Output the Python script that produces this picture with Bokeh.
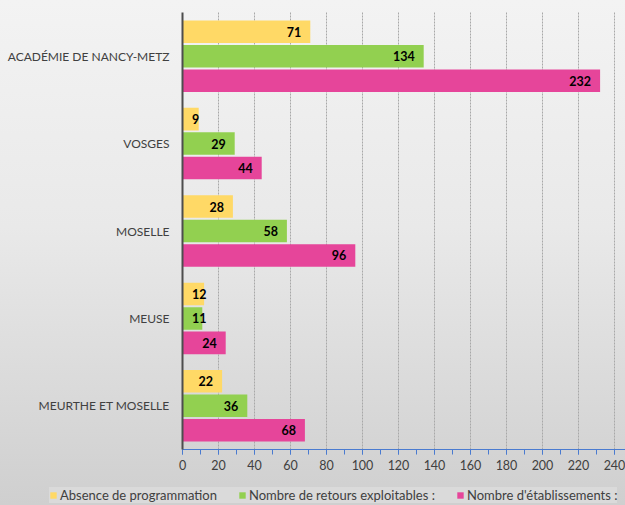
from bokeh.plotting import figure
from bokeh.models import ColumnDataSource, Legend, LegendItem, Range1d, FixedTicker
from bokeh.transform import dodge
from bokeh.core.properties import value
from bokeh.embed import file_html
from bokeh.resources import INLINE

categories = ["MEURTHE ET MOSELLE", "MEUSE", "MOSELLE", "VOSGES", "ACADÉMIE DE NANCY-METZ"]
absence = [22, 12, 28, 9, 71]
retours = [36, 11, 58, 29, 134]
etablissements = [68, 24, 96, 44, 232]
series_names = ["Absence de programmation", "Nombre de retours exploitables :", "Nombre d'établissements :"]
x_ticks = list(range(0, 241, 20))

colors = ["#FFD966", "#92D050", "#E6459A"]
FONT = "Lato"

pos = list(range(len(categories)))


def label_cols(vals):
    # short bars: label pinned just after the axis, otherwise inside the bar end
    xs = [v if v >= 15 else 0 for v in vals]
    al = ["right" if v >= 15 else "left" for v in vals]
    off = [-9 if v >= 15 else 9.5 for v in vals]
    return xs, al, off


data = dict(pos=pos, a=absence, r=retours, e=etablissements)
for k, vals in (("a", absence), ("r", retours), ("e", etablissements)):
    xs, al, off = label_cols(vals)
    data[k + "_lx"] = xs
    data[k + "_al"] = al
    data[k + "_off"] = off
    data[k + "_t"] = [str(v) for v in vals]
src = ColumnDataSource(data)

# whole canvas is the frame; axes are pinned at the category / zero edges
PX_PER_UNIT_X = 1.8
PX_PER_CAT = 87.4
W, H = 625, 505
LEFT, TOP, BOTTOM = 182, 12, 449
x0 = -LEFT / PX_PER_UNIT_X
x1 = (W - LEFT) / PX_PER_UNIT_X
y0 = -0.5 - (H - BOTTOM) / PX_PER_CAT
y1 = len(categories) - 0.5 + TOP / PX_PER_CAT

p = figure(width=W, height=H, x_range=Range1d(x0, x1), y_range=Range1d(y0, y1),
           output_backend="svg", toolbar_location=None,
           min_border=0, min_border_left=0, min_border_right=0, min_border_top=0, min_border_bottom=0)
p.styles = {"background": "linear-gradient(to bottom, #f3f3f3 0%, #e9e9e9 45%, #cfcfcf 100%)"}
p.background_fill_color = None
p.border_fill_color = None
p.outline_line_color = None

offsets = [0.28, 0.0, -0.28]
keys = ["a", "r", "e"]
renderers = []
for k, off, c in zip(keys, offsets, colors):
    r = p.hbar(y=dodge("pos", off), right=k, left=0, height=0.258,
               source=src, fill_color=c, line_color=None)
    renderers.append(r)
    p.text(x=k + "_lx", y=dodge("pos", off), text=k + "_t", source=src,
           text_align=k + "_al", text_baseline="middle", x_offset=k + "_off",
           text_font=value(FONT), text_font_size="12.5px", text_font_style="bold",
           text_color="#000000")

xa = p.xaxis[0]
xa.fixed_location = -0.5
xa.bounds = (0, x1)
xa.ticker = FixedTicker(ticks=x_ticks, minor_ticks=list(range(0, 241, 10)))
xa.axis_line_color = "#4A7BD0"
xa.major_tick_line_color = "#4A7BD0"
xa.minor_tick_line_color = "#4A7BD0"
xa.major_tick_out = 5
xa.major_tick_in = 0
xa.minor_tick_out = 5
xa.minor_tick_in = 0
xa.major_label_standoff = 5
xa.major_label_text_font = FONT
xa.major_label_text_font_size = "12.5px"
xa.major_label_text_color = "#404040"

ya = p.yaxis[0]
ya.fixed_location = 0
ya.bounds = (-0.5, len(categories) - 0.5)
ya.ticker = FixedTicker(ticks=pos)
ya.major_label_overrides = {i: c for i, c in zip(pos, categories)}
ya.axis_line_color = "#4d4d4d"
ya.axis_line_width = 2
ya.major_tick_line_color = None
ya.minor_tick_line_color = None
ya.major_tick_out = 0
ya.major_tick_in = 0
ya.minor_tick_out = 0
ya.major_label_standoff = 13
ya.major_label_text_font = FONT
ya.major_label_text_font_size = "12px"
ya.major_label_text_color = "#404040"

p.ygrid.grid_line_color = None
p.xgrid.ticker = FixedTicker(ticks=x_ticks[1:])
p.xgrid.cross_bounds = (-0.5, len(categories) - 0.5)
p.xgrid.grid_line_color = "#a8a8a8"
p.xgrid.grid_line_dash = "2 1"
p.xgrid.grid_line_width = 1

items = [LegendItem(label=n, renderers=[r]) for n, r in zip(series_names, renderers)]
legend = Legend(items=items, orientation="horizontal", location=(49, 2),
                glyph_width=8, glyph_height=8, label_standoff=3, spacing=21,
                padding=8, margin=0, label_height=16,
                label_text_font=FONT, label_text_font_size="13px", label_text_color="#404040",
                background_fill_color="#dadada", background_fill_alpha=1,
                border_line_color=None)
p.add_layout(legend, "center")

open("out.html", "w").write(file_html(p, INLINE))
